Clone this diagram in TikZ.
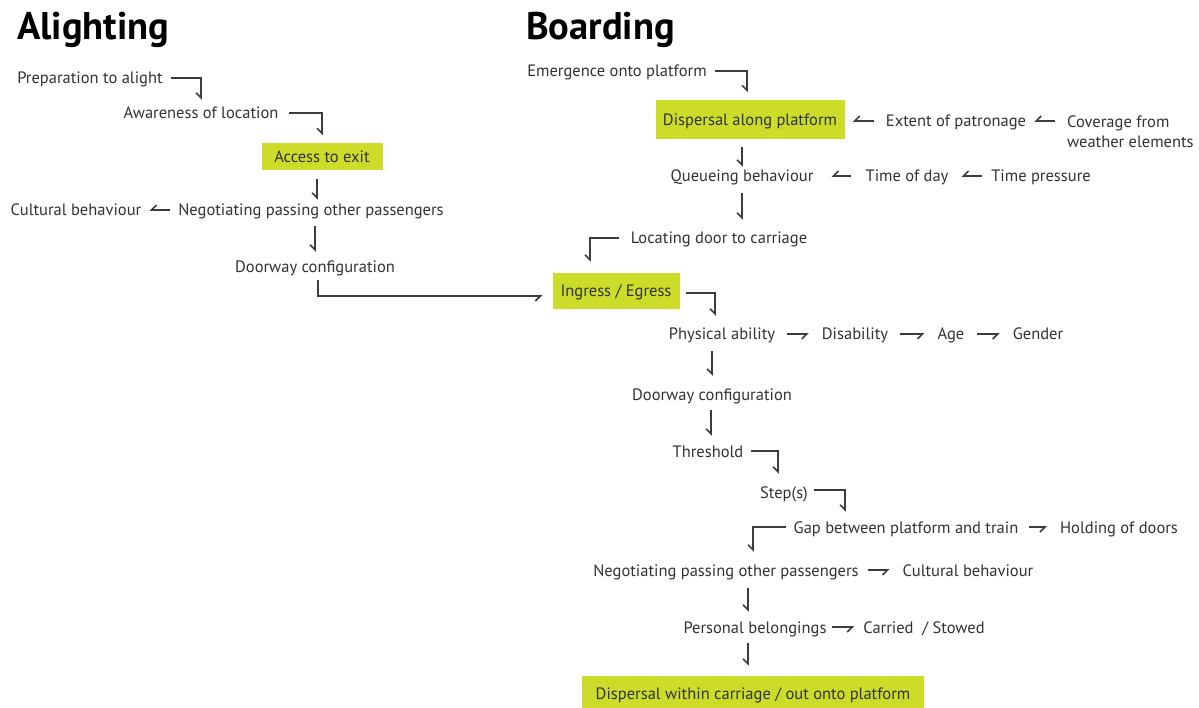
\documentclass[tikz,border=0pt]{standalone}
\usepackage{fontspec}
\setmainfont{PT Sans}
\usetikzlibrary{arrows.meta, positioning}
\definecolor{boxcolor}{RGB}{205,220,40}
\definecolor{textgray}{RGB}{50,50,50}
\definecolor{linegray}{RGB}{60,60,60}

\begin{document}
\begin{tikzpicture}[
    x=1pt, y=-1pt,
    item/.style={font=\fontsize{16.5}{20}\selectfont, text=textgray, inner sep=2pt, text height=12pt, text depth=0pt},
    keybox/.style={item, fill=boxcolor},
    heading/.style={font=\fontsize{38.5}{40}\selectfont\bfseries, text=black, anchor=west, inner sep=0pt},
    flow/.style={-{Straight Barb[harpoon, swap, length=5pt, angle'=90]}, line width=1.6pt, draw=linegray}
]
    \useasboundingbox (0,0) rectangle (1199,708);

    % Titles
    \node[heading] (alight) at (17,30) {Alighting};
    \node[heading] (board) at (526,30) {Boarding};

    % Alighting side
    \node[item] (prep) at (90,78) {Preparation to alight};
    \node[item] (aware) at (201,113) {Awareness of location};
    \node[keybox, minimum width=121pt, minimum height=27pt] (access) at (322,157) {Access to exit};
    \node[item] (negA) at (311,210) {Negotiating passing other passengers};
    \node[item] (cultA) at (76,210) {Cultural behaviour};
    \node[item] (doorA) at (315,267) {Doorway configuration};

    % Boarding side
    \node[item] (emerg) at (617,71) {Emergence onto platform};
    \node[keybox, minimum width=189pt, minimum height=39pt] (dispA) at (750,120) {Dispersal along platform};
    \node[item] (extent) at (956,121) {Extent of patronage};
    \node[item, align=left, anchor=base west] (cover) at (1065,148) {Coverage from\\weather elements};
    \node[item] (queue) at (742,176) {Queueing behaviour};
    \node[item] (timeday) at (907,176) {Time of day};
    \node[item] (pressure) at (1041,176) {Time pressure};
    \node[item] (locating) at (719,238) {Locating door to carriage};
    \node[keybox, minimum width=127pt, minimum height=36pt] (ingress) at (616,291) {Ingress / Egress};
    \node[item] (physical) at (722,334) {Physical ability};
    \node[item] (disab) at (855,334) {Disability};
    \node[item] (age) at (951,334) {Age};
    \node[item] (gender) at (1038,334) {Gender};
    \node[item] (doorB) at (712,394) {Doorway configuration};
    \node[item] (threshold) at (708,451) {Threshold};
    \node[item] (steps) at (784,492) {Step(s)};
    \node[item] (gap) at (906,527) {Gap between platform and train};
    \node[item] (holding) at (1119,527) {Holding of doors};
    \node[item] (negB) at (726,570) {Negotiating passing other passengers};
    \node[item] (cultB) at (968,570) {Cultural behaviour};
    \node[item] (personal) at (755,627) {Personal belongings};
    \node[item] (carried) at (924,627) {Carried \ / Stowed};
    \node[keybox, minimum width=342pt, minimum height=34pt] (dispW) at (753,693) {Dispersal within carriage / out onto platform};

    % Alighting connectors
    \draw[flow] ([xshift=6pt]prep.east) -| ([yshift=5pt]aware.north);
    \draw[flow] ([xshift=8pt]aware.east) -| ([yshift=8pt]access.north);
    \draw[flow] ([xshift=-5pt, yshift=-8pt]access.south) -- ([xshift=-5pt, yshift=2pt]access.south |- negA.north);
    \draw[flow] ([xshift=-6pt]negA.west) -- ([xshift=6pt]cultA.east);
    \draw[flow] ([yshift=-8pt]doorA.north |- negA.south) -- ([yshift=7pt]doorA.north);
    \draw[flow] ([xshift=3pt, yshift=-5pt]doorA.south) |- ([xshift=-10pt, yshift=-5pt]ingress.west);

    % Boarding connectors
    \draw[flow] ([xshift=6pt]emerg.east) -| ([xshift=-3pt, yshift=8pt]dispA.north);
    \draw[flow] ([xshift=-10pt]extent.west) -- ([xshift=8pt]dispA.east |- extent.west);
    \draw[flow] ([xshift=-10pt]cover.west |- extent.west) -- ([xshift=6pt]extent.east);
    \draw[flow] ([yshift=-7pt]queue.north |- dispA.south) -- ([yshift=1pt]queue.north);
    \draw[flow] ([xshift=-12pt]timeday.west) -- ([xshift=16pt]queue.east);
    \draw[flow] ([xshift=-7pt]pressure.west) -- ([xshift=11pt]timeday.east);
    \draw[flow] ([yshift=-9pt]queue.south) -- ([yshift=10pt]queue.south |- locating.north);
    \draw[flow] ([xshift=-10pt]locating.west) -| ([xshift=-26pt, yshift=11pt]ingress.north);
    \draw[flow] ([xshift=6pt, yshift=-2pt]ingress.east) -| ([xshift=-7pt, yshift=10pt]physical.north);
    \draw[flow] ([xshift=10pt]physical.east) -- ([xshift=-11pt]disab.west);
    \draw[flow] ([xshift=10pt]disab.east) -- ([xshift=-11pt]age.west);
    \draw[flow] ([xshift=10pt]age.east) -- ([xshift=-11pt]gender.west);
    \draw[flow] ([yshift=-9pt]doorB.north |- physical.south) -- ([yshift=10pt]doorB.north);
    \draw[flow] ([xshift=-1pt, yshift=-8pt]doorB.south) -- ([xshift=-1pt, yshift=7pt]doorB.south |- threshold.north);
    \draw[flow] ([xshift=5pt]threshold.east) -| ([xshift=-6pt, yshift=10pt]steps.north);
    \draw[flow] ([xshift=4pt, yshift=2pt]steps.east) -| ([xshift=35pt, yshift=7pt]steps.east |- gap.north);
    \draw[flow] ([xshift=8pt]gap.east) -- ([xshift=-11pt]holding.west);
    \draw[flow] ([xshift=-5pt]gap.west) -| ([xshift=27pt, yshift=10pt]negB.north);
    \draw[flow] ([xshift=7pt]negB.east) -- ([xshift=-11pt]cultB.west);
    \draw[flow] ([xshift=-7pt, yshift=-10pt]personal.north |- negB.south) -- ([xshift=-7pt, yshift=7pt]personal.north);
    \draw[flow] ([xshift=3pt]personal.east) -- ([xshift=-7pt]carried.west);
    \draw[flow] ([xshift=-7pt, yshift=-8pt]personal.south) -- ([xshift=-7pt, yshift=10pt]personal.south |- dispW.north);
\end{tikzpicture}
\end{document}
